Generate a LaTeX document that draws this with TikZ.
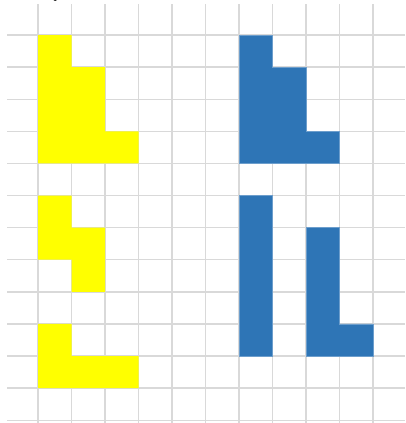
\documentclass[tikz,border=0pt]{standalone}
\usepackage{fontspec}
\setmainfont{Liberation Serif}
\definecolor{gridgray}{HTML}{D9D9D9}
\definecolor{tileyellow}{HTML}{FFFF00}
\definecolor{tileblue}{HTML}{2E75B6}
\begin{document}
\begin{tikzpicture}[x=1pt,y=-1pt,
  gridline/.style={draw=gridgray,line width=1.4pt},
  ytile/.style={fill=tileyellow,draw=none},
  btile/.style={fill=tileblue,draw=tileblue!70!white,line width=0.4pt}]
\useasboundingbox (0,0) rectangle (405,423);
\def\cx#1{38+33.5*#1}
\def\ry#1{35+32.1*#1}
% grid
\foreach \r in {0,...,12}{\draw[gridline] (7,{\ry{\r}}) -- (405,{\ry{\r}});}
\foreach \c in {0,...,10}{\draw[gridline] ({\cx{\c}},4) -- ({\cx{\c}},423);}
% yellow tiles
\fill[ytile] ({\cx0},{\ry0}) -- ({\cx1},{\ry0}) -- ({\cx1},{\ry1}) -- ({\cx2},{\ry1}) -- ({\cx2},{\ry3}) -- ({\cx3},{\ry3}) -- ({\cx3},{\ry4}) -- ({\cx0},{\ry4}) -- cycle;
\fill[ytile] ({\cx0},{\ry5}) -- ({\cx1},{\ry5}) -- ({\cx1},{\ry6}) -- ({\cx2},{\ry6}) -- ({\cx2},{\ry8}) -- ({\cx1},{\ry8}) -- ({\cx1},{\ry7}) -- ({\cx0},{\ry7}) -- cycle;
\fill[ytile] ({\cx0},{\ry9}) -- ({\cx1},{\ry9}) -- ({\cx1},{\ry10}) -- ({\cx3},{\ry10}) -- ({\cx3},{\ry11}) -- ({\cx0},{\ry11}) -- cycle;
% blue tiles
\filldraw[btile] ({\cx6},{\ry0}) -- ({\cx7},{\ry0}) -- ({\cx7},{\ry1}) -- ({\cx8},{\ry1}) -- ({\cx8},{\ry3}) -- ({\cx9},{\ry3}) -- ({\cx9},{\ry4}) -- ({\cx6},{\ry4}) -- cycle;
\filldraw[btile] ({\cx6},{\ry5}) rectangle ({\cx7},{\ry10});
\filldraw[btile] ({\cx8},{\ry6}) -- ({\cx9},{\ry6}) -- ({\cx9},{\ry9}) -- ({\cx10},{\ry9}) -- ({\cx10},{\ry10}) -- ({\cx8},{\ry10}) -- cycle;
% clipped text fragment at top
\node[anchor=base,inner sep=0pt,font=\fontsize{14}{16}\selectfont] (top) at (57,-1.6) {p};
\end{tikzpicture}
\end{document}
